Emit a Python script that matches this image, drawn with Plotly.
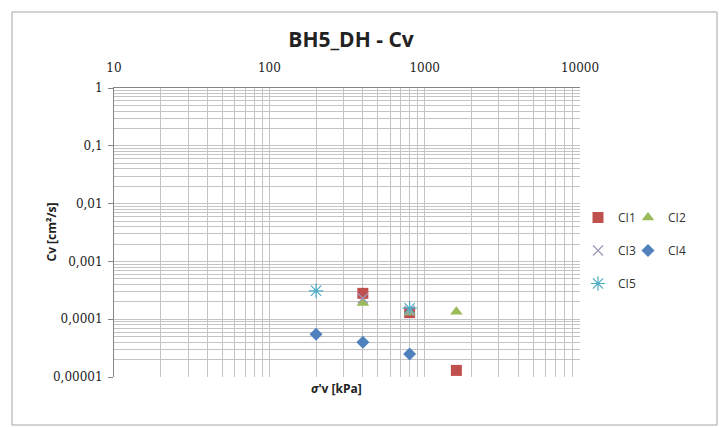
import plotly.graph_objects as go

# Consolidation coefficient vs. vertical effective stress, borehole BH5_DH
ci1_stress = [400, 800, 1600]
ci1_cv = [0.00028, 0.00013, 0.000013]

ci2_stress = [400, 800, 1600]
ci2_cv = [0.00019, 0.00013, 0.000135]

ci3_stress = [400, 800]
ci3_cv = [0.00023, 0.00014]

ci4_stress = [200, 400, 800]
ci4_cv = [0.000055, 0.00004, 0.000025]

ci5_stress = [200, 800]
ci5_cv = [0.00031, 0.000155]

x_tick_vals = [10, 100, 1000, 10000]
x_tick_text = ["10", "100", "1000", "10000"]
y_tick_vals = [1, 0.1, 0.01, 0.001, 0.0001, 0.00001]
y_tick_text = ["1", "0,1", "0,01", "0,001", "0,0001", "0,00001"]

W, H = 719, 427
L, R, T, B = 114, 139, 88, 50
pw, ph = W - L - R, H - T - B


def px_x(p):
    return (p - L) / pw


def px_y(p):
    return (H - B - p) / ph


grid = "#C4C4C4"
axis_col = "#868686"

fig = go.Figure()

series = [
    ("CI1", ci1_stress, ci1_cv, dict(symbol="square", size=11, color="#C0504D"), "legend", "g1"),
    ("CI2", ci2_stress, ci2_cv, dict(symbol="triangle-up", size=11, color="#9BBB59"), "legend2", "g2"),
    ("CI3", ci3_stress, ci3_cv, dict(symbol="x-thin-open", size=10, color="#9E98B8",
                                     line=dict(width=1.2, color="#9E98B8")), "legend", "g3"),
    ("CI4", ci4_stress, ci4_cv, dict(symbol="diamond", size=10, color="#4F81BD"), "legend2", "g4"),
    ("CI5", ci5_stress, ci5_cv, dict(symbol="asterisk-open", size=12, color="#4BACC6",
                                     line=dict(width=1.2, color="#4BACC6")), "legend", "g5"),
]

for name, xs, ys, mk, lg, grp in series:
    fig.add_trace(go.Scatter(
        x=xs, y=ys, name=name, mode="markers", marker=mk,
        legend=lg, legendgroup=grp,
    ))

legend_font = dict(family="Open Sans", size=12, color="#333333")
minor_grid = dict(showgrid=True, gridcolor=grid, gridwidth=1, ticks="", dtick="D1")

fig.update_layout(
    width=W, height=H,
    margin=dict(l=L, r=R, t=T, b=B),
    paper_bgcolor="white", plot_bgcolor="white",
    title=dict(
        text="<b>BH5_DH - Cv</b>",
        font=dict(family="Open Sans", size=21, color="#222222"),
        x=351 / W, xanchor="center", xref="container",
        y=1 - 40 / H, yanchor="middle", yref="container",
    ),
    xaxis=dict(
        type="log", range=[1, 4], side="top",
        tickvals=x_tick_vals, ticktext=x_tick_text,
        tickfont=dict(family="DejaVu Serif", size=12, color="#222222"),
        ticks="", ticklabelstandoff=10,
        showgrid=True, gridcolor=grid, gridwidth=1,
        minor=minor_grid,
        showline=True, linecolor=axis_col, linewidth=1, mirror=False,
        zeroline=False,
    ),
    yaxis=dict(
        type="log", range=[-5, 0],
        tickvals=y_tick_vals, ticktext=y_tick_text,
        tickfont=dict(family="DejaVu Serif", size=12, color="#222222"),
        ticks="outside", ticklen=5, tickcolor=axis_col, ticklabelstandoff=3,
        showgrid=True, gridcolor=grid, gridwidth=1,
        minor=minor_grid,
        showline=True, linecolor=axis_col, linewidth=1,
        zeroline=False,
    ),
    legend=dict(
        x=px_x(578), y=px_y(203), xanchor="left", yanchor="top",
        orientation="v", font=legend_font, tracegroupgap=14,
        bgcolor="rgba(0,0,0,0)", itemclick=False,
    ),
    legend2=dict(
        x=px_x(628), y=px_y(203), xanchor="left", yanchor="top",
        orientation="v", font=legend_font, tracegroupgap=14,
        bgcolor="rgba(0,0,0,0)", itemclick=False,
    ),
    showlegend=True,
)

# chart frame
fig.add_shape(
    type="rect", xref="paper", yref="paper",
    x0=px_x(12), x1=px_x(717), y0=px_y(425), y1=px_y(12),
    line=dict(color="#A6A6A6", width=1), fillcolor="rgba(0,0,0,0)", layer="below",
)

# axis titles
fig.add_annotation(
    text="<b><i>σ</i>'v [kPa]</b>", xref="paper", yref="paper",
    x=px_x(336), y=px_y(399), showarrow=False,
    font=dict(family="Open Sans", size=12, color="#222222"),
)
fig.add_annotation(
    text="<b>Cv [cm²/s]</b>", xref="paper", yref="paper",
    x=px_x(40), y=px_y(232), showarrow=False, textangle=-90,
    font=dict(family="Open Sans", size=12, color="#222222"),
)

fig.write_html("out.html")
